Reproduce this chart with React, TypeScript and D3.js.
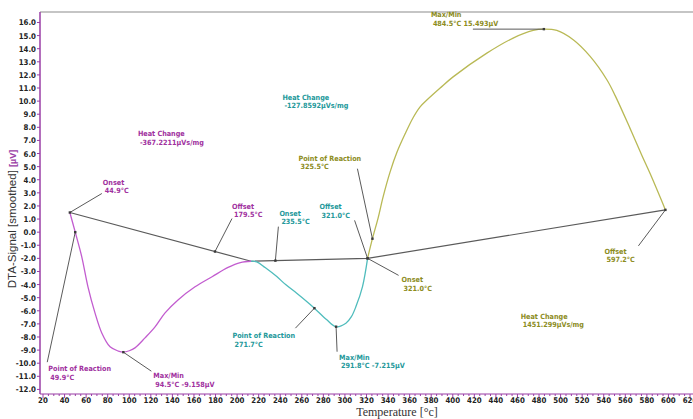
import React from "react";
import * as d3 from "d3";

// DTA scan: three thermal events, each with its own baseline and evaluation labels
const magentaT = [44.9, 49.9, 55.9, 61.7, 68.2, 74.5, 82.2, 89.9, 94.5, 100.0, 105.3, 114.6, 123.9, 133.2, 145.2, 161.0, 176.8, 191.6, 203.0, 213.0];
const magentaV = [1.5, 0.0, -1.86, -4.17, -6.16, -7.69, -8.75, -9.08, -9.158, -9.05, -8.83, -8.07, -7.23, -6.16, -5.17, -4.17, -3.4, -2.69, -2.32, -2.22];

const cyanT = [213.0, 218.2, 226.0, 236.8, 245.0, 255.3, 264.0, 271.7, 283.2, 291.8, 300.9, 306.0, 310.2, 316.3, 321.0];
const cyanV = [-2.22, -2.26, -2.7, -3.39, -4.0, -4.66, -5.25, -5.8, -6.69, -7.215, -6.95, -6.45, -5.68, -4.15, -2.0];

const oliveT = [321.0, 325.5, 330.8, 335.4, 341.9, 348.4, 355.8, 363.2, 369.7, 376.2, 388.3, 400.3, 431.6, 456.0, 474.5, 484.5, 496.5, 511.7, 527.4, 542.9, 550.6, 564.5, 575.7, 583.1, 597.2];
const oliveV = [-2.0, -0.5, 1.09, 2.69, 4.6, 6.13, 7.5, 8.73, 9.56, 10.1, 11.0, 11.85, 13.66, 14.81, 15.39, 15.493, 15.39, 14.68, 13.41, 11.63, 10.42, 7.9, 5.79, 4.45, 1.7];

// Baseline vertices (temperature, signal)
const baseT = [44.9, 213.0, 321.0, 597.2];
const baseV = [1.5, -2.22, -2.0, 1.7];

const xTicks = d3.range(20, 621, 20);
const yTicks = d3.range(-12, 16.01, 1);

const MAGENTA = "#c25ccf";
const MAGENTA_TXT = "#a0309e";
const CYAN = "#4fbcbc";
const CYAN_TXT = "#23989a";
const OLIVE = "#b9b955";
const OLIVE_TXT = "#8c8c1c";
const AXIS = "#9a3ea6";
const LEADER = "#5a5a5a";

const W = 693;
const H = 419;

const x = d3.scaleLinear().domain([20, 620]).range([43, 690]);
const y = d3.scaleLinear().domain([-12.35, 16.8]).range([394, 12]);

const smooth = d3
  .line<[number, number]>()
  .x((d) => x(d[0]))
  .y((d) => y(d[1]))
  .curve(d3.curveCatmullRom.alpha(0.5));

const straight = d3
  .line<[number, number]>()
  .x((d) => x(d[0]))
  .y((d) => y(d[1]));

const zip = (a: number[], b: number[]) => a.map((t, i) => [t, b[i]] as [number, number]);

const baseAt = d3.scaleLinear().domain(baseT).range(baseV);
const curveAt = (ts: number[], vs: number[], t: number) => d3.scaleLinear().domain(ts).range(vs)(t);

type Ann = {
  t: number;
  v: number;
  lines: string[];
  color: string;
  lx: number; // label offset from marker
  ly: number;
  ex: number; // leader end offset from marker
  ey: number;
};

const annotations: Ann[] = [
  // magenta event
  { t: 44.9, v: baseAt(44.9), lines: ["Onset", "44.9°C"], color: MAGENTA_TXT, lx: 33, ly: -28, ex: 32, ey: -19 },
  { t: 179.5, v: baseAt(179.5), lines: ["Offset", "179.5°C"], color: MAGENTA_TXT, lx: 17, ly: -43, ex: 17, ey: -33 },
  { t: 49.9, v: curveAt(magentaT, magentaV, 49.9), lines: ["Point of Reaction", "49.9°C"], color: MAGENTA_TXT, lx: -27, ly: 139, ex: -28, ey: 130 },
  { t: 94.5, v: -9.158, lines: ["Max/Min", "94.5°C   -9.158µV"], color: MAGENTA_TXT, lx: 30, ly: 26, ex: 28, ey: 19 },
  // cyan event
  { t: 235.5, v: baseAt(235.5), lines: ["Onset", "235.5°C"], color: CYAN_TXT, lx: 4, ly: -45, ex: 3, ey: -34 },
  { t: 321.0, v: -2.0, lines: ["Offset", "321.0°C"], color: CYAN_TXT, lx: -48, ly: -49, ex: -13, ey: -38 },
  { t: 271.7, v: curveAt(cyanT, cyanV, 271.7), lines: ["Point of Reaction", "271.7°C"], color: CYAN_TXT, lx: -82, ly: 30, ex: -19, ey: 20 },
  { t: 291.8, v: -7.215, lines: ["Max/Min", "291.8°C   -7.215µV"], color: CYAN_TXT, lx: 3, ly: 33, ex: 1, ey: 25 },
  // olive event
  { t: 484.5, v: 15.493, lines: ["Max/Min", "484.5°C   15.493µV"], color: OLIVE_TXT, lx: -113, ly: -12, ex: -71, ey: 0 },
  { t: 325.5, v: curveAt(oliveT, oliveV, 325.5), lines: ["Point of Reaction", "325.5°C"], color: OLIVE_TXT, lx: -74, ly: -78, ex: -15, ey: -70 },
  { t: 321.0, v: -2.0, lines: ["Onset", "321.0°C"], color: OLIVE_TXT, lx: 34, ly: 24, ex: 31, ey: 17 },
  { t: 597.2, v: 1.7, lines: ["Offset", "597.2°C"], color: OLIVE_TXT, lx: -61, ly: 44, ex: -27, ey: 36 },
];

const heatChanges = [
  { t: 108, v: 7.3, lines: ["Heat Change", "-367.2211µVs/mg"], color: MAGENTA_TXT },
  { t: 242, v: 10.1, lines: ["Heat Change", "-127.8592µVs/mg"], color: CYAN_TXT },
  { t: 463, v: -6.6, lines: ["Heat Change", "1451.299µVs/mg"], color: OLIVE_TXT },
];

const LABEL_FONT = "'Liberation Sans Narrow', 'Arial Narrow', 'DejaVu Sans Condensed', sans-serif";

function Label({ px, py, lines, color }: { px: number; py: number; lines: string[]; color: string }) {
  return (
    <text x={px} y={py} fill={color} fontFamily={LABEL_FONT} fontSize={7.2} fontWeight="bold">
      {lines.map((s, i) => (
        <tspan key={i} x={px + (i > 0 ? 2 : 0)} dy={i === 0 ? 0 : 8.5}>
          {s}
        </tspan>
      ))}
    </text>
  );
}

export default function App() {
  const minorX = d3.range(20, 621, 5);
  return (
    <svg
      width={W}
      height={H}
      style={{ position: "absolute", left: 0, top: 0, background: "#fff" }}
    >
      {/* frame */}
      <line x1={40} x2={W} y1={12} y2={12} stroke="#8c8c8c" strokeWidth={1.2} />

      {/* baselines */}
      <path d={straight(zip(baseT, baseV)) || ""} fill="none" stroke={LEADER} strokeWidth={1.2} />

      {/* signal curves */}
      <path d={smooth(zip(magentaT, magentaV)) || ""} fill="none" stroke={MAGENTA} strokeWidth={1.3} />
      <path d={smooth(zip(cyanT, cyanV)) || ""} fill="none" stroke={CYAN} strokeWidth={1.3} />
      <path d={smooth(zip(oliveT, oliveV)) || ""} fill="none" stroke={OLIVE} strokeWidth={1.3} />

      {/* evaluation leaders, markers and labels */}
      {annotations.map((a, i) => {
        const mx = x(a.t);
        const my = y(a.v);
        return (
          <g key={i}>
            <line x1={mx} y1={my} x2={mx + a.ex} y2={my + a.ey} stroke={LEADER} strokeWidth={1} />
            <rect x={mx - 1.2} y={my - 1.2} width={2.4} height={2.4} fill="#3a3a3a" />
            <Label px={mx + a.lx} py={my + a.ly} lines={a.lines} color={a.color} />
          </g>
        );
      })}
      {heatChanges.map((h, i) => (
        <Label key={i} px={x(h.t)} py={y(h.v)} lines={h.lines} color={h.color} />
      ))}

      {/* y axis */}
      <line x1={40} x2={40} y1={12} y2={394} stroke={AXIS} strokeWidth={1.5} />
      {yTicks.map((v) => (
        <g key={v}>
          <line x1={37} x2={40} y1={y(v)} y2={y(v)} stroke={AXIS} strokeWidth={1} />
          <text
            x={36}
            y={y(v) + 3}
            textAnchor="end"
            fontFamily={LABEL_FONT}
            fontWeight="bold"
            fontSize={7.8}
            fill="#222"
          >
            {v.toFixed(1)}
          </text>
        </g>
      ))}

      {/* x axis */}
      <line x1={40} x2={W} y1={394} y2={394} stroke={AXIS} strokeWidth={1.2} />
      {minorX.map((t) => (
        <line key={"m" + t} x1={x(t)} x2={x(t)} y1={394} y2={t % 20 === 0 ? 398 : 396} stroke={AXIS} strokeWidth={1} />
      ))}
      {xTicks.map((t) => (
        <text
          key={t}
          x={x(t)}
          y={402.5}
          textAnchor="middle"
          fontFamily={LABEL_FONT}
          fontWeight="bold"
          fontSize={7.8}
          fill="#222"
        >
          {t}
        </text>
      ))}

      {/* axis titles */}
      <text
        transform="translate(16,219) rotate(-90)"
        textAnchor="middle"
        fontFamily="'Liberation Sans', Arial, sans-serif"
        fontSize={11.5}
        fill="#333"
      >
        DTA-Signal [smoothed] <tspan fill={AXIS} fontSize={9} fontWeight="bold">[µV]</tspan>
      </text>
      <text
        x={397}
        y={416}
        textAnchor="middle"
        fontFamily="'Liberation Serif', 'Times New Roman', serif"
        fontSize={12}
        fill="#333"
      >
        Temperature [°c]
      </text>
    </svg>
  );
}
